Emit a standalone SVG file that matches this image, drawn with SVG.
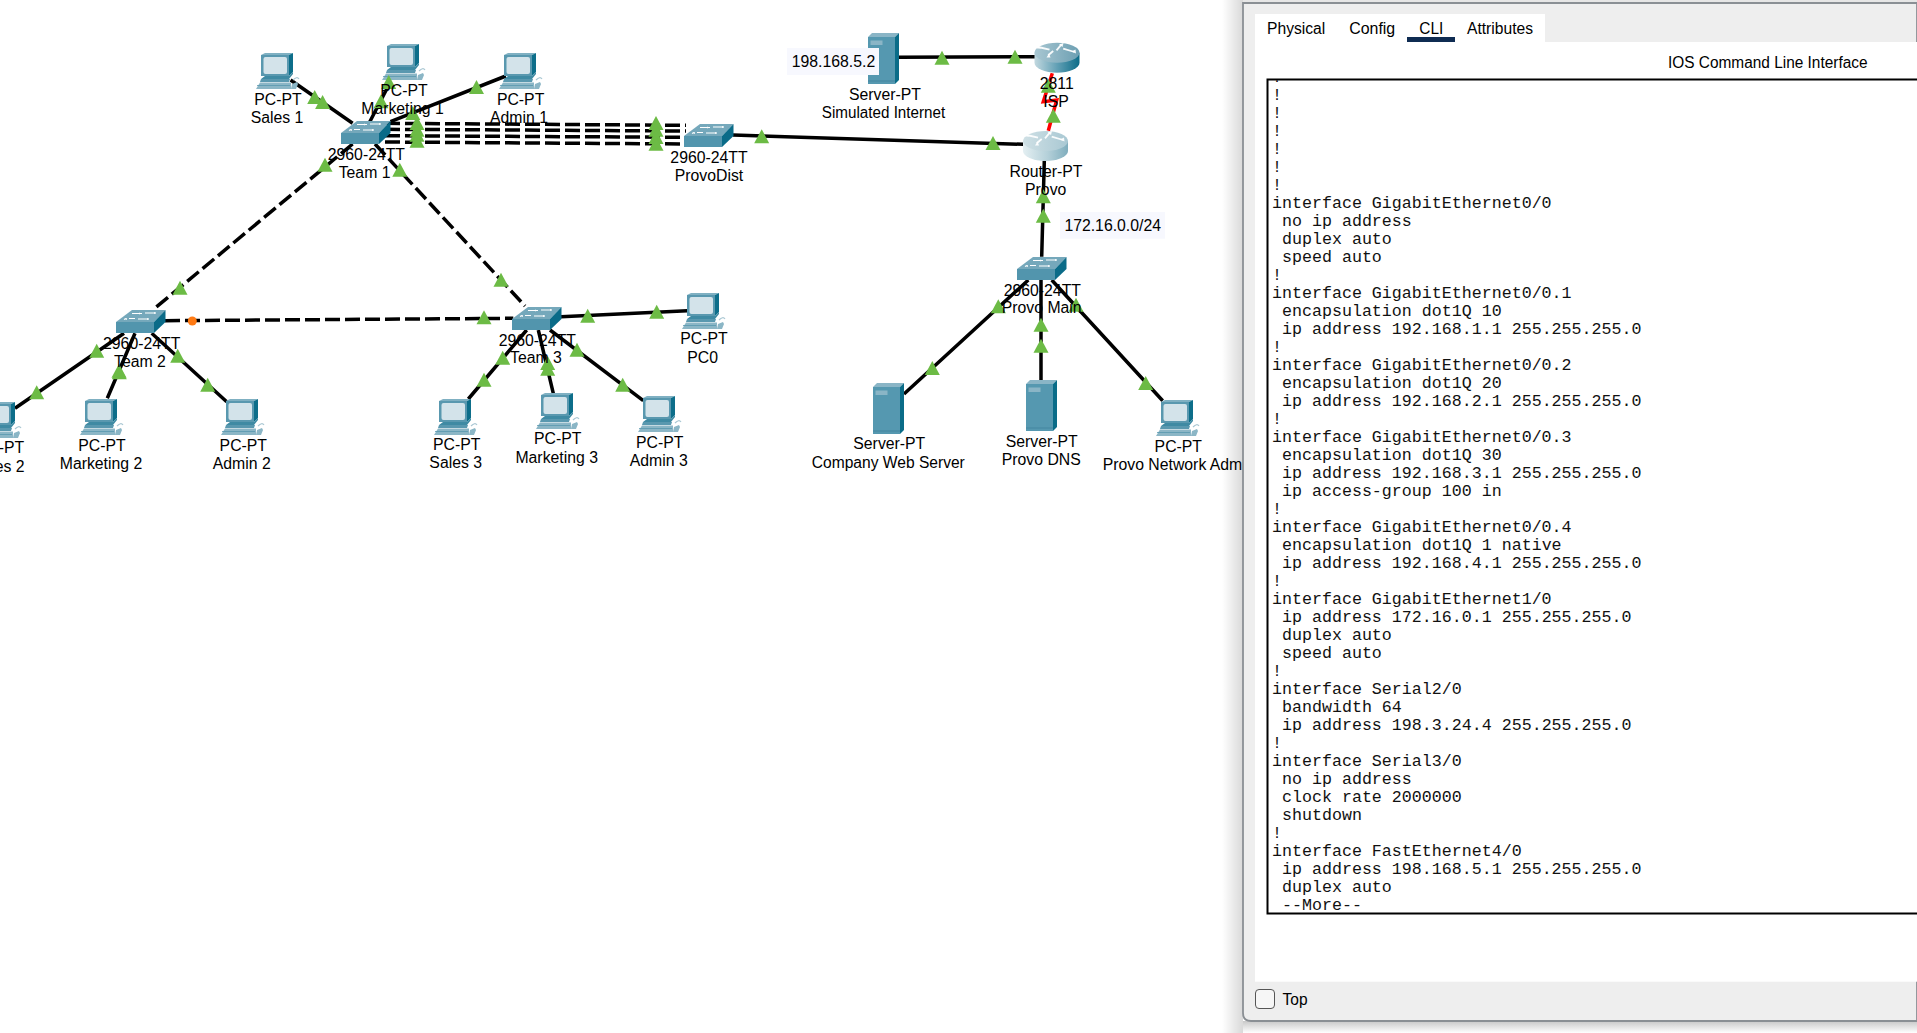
<svg xmlns="http://www.w3.org/2000/svg" width="1917" height="1033" viewBox="0 0 1917 1033">
<style>
text{font-family:"Liberation Sans",Arial,sans-serif;font-size:15.8px;fill:#000;text-anchor:middle}
.m text{font-family:"Liberation Mono","Courier New",monospace;font-size:16.65px;text-anchor:start;fill:#111}
.w text{text-anchor:start;font-size:15.6px;fill:#000}
.c{fill:none;stroke:#000;stroke-width:3.5}
.d{stroke-dasharray:15 5}
.t{fill:#6cbb45}
.lb{fill:#f7f8fe}
</style>
<defs>
<linearGradient id="rg1" x1="0" x2="1" y1="0" y2="0"><stop offset="0" stop-color="#c2d8df"/><stop offset=".5" stop-color="#62a0b5"/><stop offset="1" stop-color="#0c6c88"/></linearGradient>
<linearGradient id="rt1" x1="0" x2="1" y1="0" y2="0"><stop offset="0" stop-color="#a9c7d2"/><stop offset="1" stop-color="#6c9fb2"/></linearGradient>
<linearGradient id="rg2" x1="0" x2="1" y1="0" y2="0"><stop offset="0" stop-color="#e4eff2"/><stop offset=".55" stop-color="#b4d0d9"/><stop offset="1" stop-color="#7fadbd"/></linearGradient>
<linearGradient id="rt2" x1="0" x2="1" y1="0" y2="0"><stop offset="0" stop-color="#cfe0e5"/><stop offset="1" stop-color="#a9c8d3"/></linearGradient>
<linearGradient id="sl" x1="0" x2="1" y1="0" y2="0"><stop offset="0" stop-color="#000" stop-opacity="0"/><stop offset="1" stop-color="#000" stop-opacity=".15"/></linearGradient>
<linearGradient id="sb" x1="0" x2="0" y1="0" y2="1"><stop offset="0" stop-color="#c8c8c8"/><stop offset="1" stop-color="#fff"/></linearGradient>
<polygon id="tri" class="t" points="0,-14 7.500,0 -7.500,0"/>
<symbol id="pc" width="44" height="36" viewBox="0 0 44 36" overflow="visible">
<polygon points="5,2 9,0 37,0 33,2" fill="#7fb0c2"/>
<rect x="5" y="2" width="28" height="21" fill="#5998af"/>
<polygon points="33,2 37,0 37,19 33,23" fill="#0d6e8a"/>
<rect x="7.500" y="4" width="23.500" height="17" rx="2" fill="#d3e3ea"/>
<polygon points="9,23 33,23 37,19 37,21 33,26 5,26" fill="#3f8aa3"/>
<polygon points="5,26 34,26 33,29 4,29" fill="#5998af"/>
<polygon points="4,29.500 35,29.500 35,36 0,36" fill="#8bb6c6"/>
<path d="M1 32.500H34" stroke="#5998af" stroke-width=".8"/>
<path d="M37 27q4-4 6-1" fill="none" stroke="#a9c7d3" stroke-width="1.200"/>
<polygon points="36,31 41,29 42,31 40,36 35,36" fill="#8bb6c6"/>
</symbol>
<symbol id="sw" width="50" height="23" viewBox="0 0 50 23" overflow="visible">
<polygon points="0,12 16,0 49.500,0 38,12" fill="#75a8bb"/>
<rect x="0" y="12" width="38" height="11" fill="#5295ad"/>
<polygon points="38,12 49.500,0 49.500,12 38,23" fill="#0a6b88"/>
<path d="M16 3.500h10M29 3h11M13 8.500h6M22 9h11M10 8.500l-2 1" fill="none" stroke="#fff" stroke-width="1.200"/>
<path d="M24 2.500l-2 1 2 1M38 2l2 1-2 1M31 8l2 1-2 1M11 8l-2 1 2 1" fill="#fff"/>
</symbol>
<symbol id="srv" width="32" height="51" viewBox="0 0 32 51" overflow="visible">
<polygon points="0,4 4,0 31,0 27,4" fill="#8ab5c6"/>
<rect x="0" y="4" width="27" height="47" fill="#5598b0"/>
<polygon points="27,4 31,0 31,47 27,51" fill="#0a6c88"/>
<rect x="2.500" y="7.500" width="12" height="4.500" fill="#8ab5c6"/>
<rect x="0" y="47.500" width="27" height="1" fill="#4585a0"/>
</symbol>
<symbol id="arrows" width="45" height="22" viewBox="0 0 45 22" overflow="visible">
<path d="M3.700 4L15 6.700M27 1.300L22 7.300M28.700 5.700L40 9M13.700 12.300L18.700 8" fill="none" stroke="#fff" stroke-width="1.800" opacity=".92"/>
<path d="M3 2L2 5.500L6.500 5.500ZM41.500 10.500L41 6.500L37 8.500ZM29 0L24.500 1.500L28 4ZM12 14.500L16 14.500L14.500 10.500Z" fill="#fff" opacity=".92"/>
</symbol>
<clipPath id="term"><rect x="1267" y="80" width="650" height="833"/></clipPath>
</defs>
<rect width="1917" height="1033" fill="#fff"/>

<g id="connectors">
<path class="c" d="M290.600 80L352.600 123.300M390.500 81.700L369.800 121.700M505.800 76L390.500 121.700"/>
<path class="c d" d="M385 123.300L686 125.300M385 129.300L686 131M385 135.700L686 137.300M385 142L686 144"/>
<path class="c d" d="M352.600 144L152.700 310M375 144L525 306M165 320.700L513.300 318.300"/>
<path class="c" d="M733 135L1023.300 144.300M898.700 57.300L1035 56.700M1044.300 160.700L1041.700 256.700"/>
<path d="M1052.300 73.300L1043.300 101.700L1056.700 100L1048.300 130.700" fill="none" stroke="#f00" stroke-width="3.500"/>
<path class="c" d="M1028.300 280L904 394M1041 280V380M1051.700 280L1162.700 400.700"/>
<path class="c" d="M124 333.300L15 408.300M135 333.300L107.300 398.300M151.700 333.300L226.700 401.700"/>
<path class="c" d="M526.700 330L468.300 399M538.300 330L553.300 393.300M550 330L643.300 400.700M561 316.700L687.300 310.700"/>
</g>

<g id="node-team1"><use href="#sw" x="341" y="121"/></g>
<g id="node-provodist"><use href="#sw" x="684" y="124"/></g>
<g id="node-team2"><use href="#sw" x="116" y="310"/></g>
<g id="node-team3"><use href="#sw" x="512" y="307"/></g>
<g id="node-provomain"><use href="#sw" x="1017" y="257"/></g>
<g id="node-isp"><path d="M0 10V20A22.500 10 0 0 0 45 20V10Z" transform="translate(1034.500 42.700)" fill="url(#rg1)"/><ellipse cx="1057" cy="52.700" rx="22.500" ry="10" fill="url(#rt1)"/><use href="#arrows" x="1034.500" y="43"/></g>
<g id="node-provo"><path d="M0 10V20A22.500 10 0 0 0 45 20V10Z" transform="translate(1023 131)" fill="url(#rg2)"/><ellipse cx="1045.500" cy="141" rx="22.500" ry="10" fill="url(#rt2)"/><use href="#arrows" x="1023" y="131"/></g>
<g id="node-internet"><use href="#srv" x="868" y="33"/></g>
<g id="node-web"><use href="#srv" x="873" y="383"/></g>
<g id="node-dns"><use href="#srv" x="1026" y="380"/></g>
<g id="node-sales1"><use href="#pc" x="256" y="53"/></g>
<g id="node-marketing1"><use href="#pc" x="382" y="44"/></g>
<g id="node-admin1"><use href="#pc" x="499" y="53"/></g>
<g id="node-sales2"><use href="#pc" x="-22" y="402"/></g>
<g id="node-marketing2"><use href="#pc" x="80" y="399"/></g>
<g id="node-admin2"><use href="#pc" x="221" y="399"/></g>
<g id="node-sales3"><use href="#pc" x="434" y="399"/></g>
<g id="node-marketing3"><use href="#pc" x="536" y="393"/></g>
<g id="node-admin3"><use href="#pc" x="638" y="396"/></g>
<g id="node-pc0"><use href="#pc" x="682" y="293"/></g>
<g id="node-admin"><use href="#pc" x="1156" y="400"/></g>

<g id="status">
<use href="#tri" x="314.700" y="104"/><use href="#tri" x="322.600" y="109"/>
<use href="#tri" x="381" y="108.300"/><use href="#tri" x="388.700" y="89"/>
<use href="#tri" x="476.500" y="94"/><use href="#tri" x="412.800" y="120"/>
<use href="#tri" x="417" y="130"/><use href="#tri" x="417" y="136.700"/><use href="#tri" x="417" y="141.700"/><use href="#tri" x="417" y="147.700"/>
<use href="#tri" x="656" y="130"/><use href="#tri" x="656" y="136.700"/><use href="#tri" x="656" y="144"/><use href="#tri" x="656" y="150.700"/>
<use href="#tri" x="325" y="171.700"/><use href="#tri" x="399.800" y="176.700"/>
<use href="#tri" x="942" y="64.700"/><use href="#tri" x="1015" y="63.700"/>
<use href="#tri" x="761.700" y="143.300"/><use href="#tri" x="993" y="150"/>
<use href="#tri" x="1048.300" y="92.700"/><use href="#tri" x="1053.300" y="122.700"/>
<use href="#tri" x="1043.300" y="203.300"/><use href="#tri" x="1043.300" y="222.700"/>
<use href="#tri" x="180" y="294.700"/><use href="#tri" x="96.700" y="357.700"/><use href="#tri" x="36.700" y="399.300"/>
<use href="#tri" x="119" y="377.700"/><use href="#tri" x="119.300" y="379.300"/>
<use href="#tri" x="177.700" y="362.700"/><use href="#tri" x="207.700" y="391.700"/>
<use href="#tri" x="501" y="286.700"/><use href="#tri" x="484" y="324.300"/><use href="#tri" x="587.700" y="322.700"/><use href="#tri" x="656.700" y="318.700"/>
<use href="#tri" x="502.700" y="364.700"/><use href="#tri" x="484" y="386.700"/><use href="#tri" x="547.700" y="370"/><use href="#tri" x="547.700" y="375.700"/>
<use href="#tri" x="577" y="356.700"/><use href="#tri" x="622.700" y="391.700"/>
<use href="#tri" x="998.300" y="313.300"/><use href="#tri" x="932.300" y="375"/><use href="#tri" x="1041" y="331.700"/><use href="#tri" x="1041" y="352.700"/>
<use href="#tri" x="1076" y="311.700"/><use href="#tri" x="1145.700" y="390"/>
<circle cx="192.300" cy="321" r="4.500" fill="#ff7a14"/>
</g>

<g id="labels">
<text x="278" y="105">PC-PT</text><text x="277" y="123">Sales 1</text>
<text x="404" y="96">PC-PT</text><text x="402.500" y="114">Marketing 1</text>
<text x="520.600" y="105">PC-PT</text><text x="519" y="123">Admin 1</text>
<text x="366.400" y="160">2960-24TT</text><text x="364.600" y="177.700">Team 1</text>
<text x="709" y="163.300">2960-24TT</text><text x="709" y="181">ProvoDist</text>
<text x="885" y="100">Server-PT</text><text x="883.500" y="117.700" textLength="123.500" lengthAdjust="spacingAndGlyphs">Simulated Internet</text>
<text x="1056.700" y="89">2811</text><text x="1056" y="106.700">ISP</text>
<text x="1046" y="176.700">Router-PT</text><text x="1045.700" y="195">Provo</text>
<text x="141.700" y="349">2960-24TT</text><text x="140" y="366.700">Team 2</text>
<text x="0.500" y="453.300">PC-PT</text><text x="-1.700" y="471.700">Sales 2</text>
<text x="102" y="450.700">PC-PT</text><text x="101" y="469">Marketing 2</text>
<text x="243.300" y="450.700">PC-PT</text><text x="241.700" y="469">Admin 2</text>
<text x="537.300" y="346">2960-24TT</text><text x="536" y="363.300">Team 3</text>
<text x="456.700" y="450">PC-PT</text><text x="455.700" y="468.300">Sales 3</text>
<text x="557.700" y="444.300">PC-PT</text><text x="556.700" y="462.700">Marketing 3</text>
<text x="659.700" y="447.700">PC-PT</text><text x="658.700" y="465.700">Admin 3</text>
<text x="704" y="344.300">PC-PT</text><text x="702.700" y="362.700">PC0</text>
<text x="889.300" y="449.300">Server-PT</text><text x="888.300" y="467.700" textLength="153" lengthAdjust="spacingAndGlyphs">Company Web Server</text>
<text x="1041.700" y="446.700">Server-PT</text><text x="1041.300" y="465">Provo DNS</text>
<text x="1042.300" y="295.700">2960-24TT</text><text x="1041.700" y="313.300">Provo Main</text>
<text x="1178.300" y="451.700">PC-PT</text><text x="1102.700" y="469.700" style="text-anchor:start">Provo Network Admi</text>
<rect class="lb" x="787" y="48" width="92" height="27"/><text x="833.500" y="67">198.168.5.2</text>
<rect class="lb" x="1060" y="212" width="105" height="26.700"/><text x="1112.700" y="230.700">172.16.0.0/24</text>
</g>

<g id="window">
<rect x="1222" y="0" width="21" height="1033" fill="url(#sl)"/>
<rect x="1243" y="1021" width="674" height="12" fill="url(#sb)"/>
<rect x="1243" y="0" width="674" height="3" fill="#e6e6e6"/>
<path d="M1243 3H1917V1021H1251Q1243 1021 1243 1013Z" fill="#eee" stroke="#8a8f94" stroke-width="1.800"/>
<rect x="1255" y="14" width="290" height="28" fill="#fff"/>
<rect x="1255" y="42" width="662" height="939.700" fill="#fff"/>
<g class="w">
<text x="1267" y="34" textLength="58.300" lengthAdjust="spacingAndGlyphs">Physical</text>
<text x="1349.200" y="34" textLength="46" lengthAdjust="spacingAndGlyphs">Config</text>
<text x="1419.300" y="34" textLength="24" lengthAdjust="spacingAndGlyphs">CLI</text>
<text x="1467" y="34" textLength="66" lengthAdjust="spacingAndGlyphs">Attributes</text>
<text x="1668" y="68" textLength="199.500" lengthAdjust="spacingAndGlyphs">IOS Command Line Interface</text>
<text x="1282.600" y="1005" textLength="25" lengthAdjust="spacingAndGlyphs">Top</text>
</g>
<rect x="1407" y="37" width="48" height="5" fill="#0f2c52"/>
<rect x="1267.500" y="79.500" width="660" height="834" fill="#fff" stroke="#000" stroke-width="2"/>
<rect x="1255.500" y="989.500" width="19" height="19" rx="3.500" fill="#f6f6f6" stroke="#555" stroke-width="1"/>
<g class="m" clip-path="url(#term)">
<text x="1272" y="81.700">!</text>
<text x="1272" y="99.700">!</text>
<text x="1272" y="117.700">!</text>
<text x="1272" y="135.700">!</text>
<text x="1272" y="153.700">!</text>
<text x="1272" y="171.700">!</text>
<text x="1272" y="189.700">!</text>
<text x="1272" y="207.700">interface GigabitEthernet0/0</text>
<text x="1282" y="225.700">no ip address</text>
<text x="1282" y="243.700">duplex auto</text>
<text x="1282" y="261.700">speed auto</text>
<text x="1272" y="279.700">!</text>
<text x="1272" y="297.700">interface GigabitEthernet0/0.1</text>
<text x="1282" y="315.700">encapsulation dot1Q 10</text>
<text x="1282" y="333.700">ip address 192.168.1.1 255.255.255.0</text>
<text x="1272" y="351.700">!</text>
<text x="1272" y="369.700">interface GigabitEthernet0/0.2</text>
<text x="1282" y="387.700">encapsulation dot1Q 20</text>
<text x="1282" y="405.700">ip address 192.168.2.1 255.255.255.0</text>
<text x="1272" y="423.700">!</text>
<text x="1272" y="441.700">interface GigabitEthernet0/0.3</text>
<text x="1282" y="459.700">encapsulation dot1Q 30</text>
<text x="1282" y="477.700">ip address 192.168.3.1 255.255.255.0</text>
<text x="1282" y="495.700">ip access-group 100 in</text>
<text x="1272" y="513.700">!</text>
<text x="1272" y="531.700">interface GigabitEthernet0/0.4</text>
<text x="1282" y="549.700">encapsulation dot1Q 1 native</text>
<text x="1282" y="567.700">ip address 192.168.4.1 255.255.255.0</text>
<text x="1272" y="585.700">!</text>
<text x="1272" y="603.700">interface GigabitEthernet1/0</text>
<text x="1282" y="621.700">ip address 172.16.0.1 255.255.255.0</text>
<text x="1282" y="639.700">duplex auto</text>
<text x="1282" y="657.700">speed auto</text>
<text x="1272" y="675.700">!</text>
<text x="1272" y="693.700">interface Serial2/0</text>
<text x="1282" y="711.700">bandwidth 64</text>
<text x="1282" y="729.700">ip address 198.3.24.4 255.255.255.0</text>
<text x="1272" y="747.700">!</text>
<text x="1272" y="765.700">interface Serial3/0</text>
<text x="1282" y="783.700">no ip address</text>
<text x="1282" y="801.700">clock rate 2000000</text>
<text x="1282" y="819.700">shutdown</text>
<text x="1272" y="837.700">!</text>
<text x="1272" y="855.700">interface FastEthernet4/0</text>
<text x="1282" y="873.700">ip address 198.168.5.1 255.255.255.0</text>
<text x="1282" y="891.700">duplex auto</text>
<text x="1282" y="909.700">--More--</text>
</g>
</g>
</svg>
